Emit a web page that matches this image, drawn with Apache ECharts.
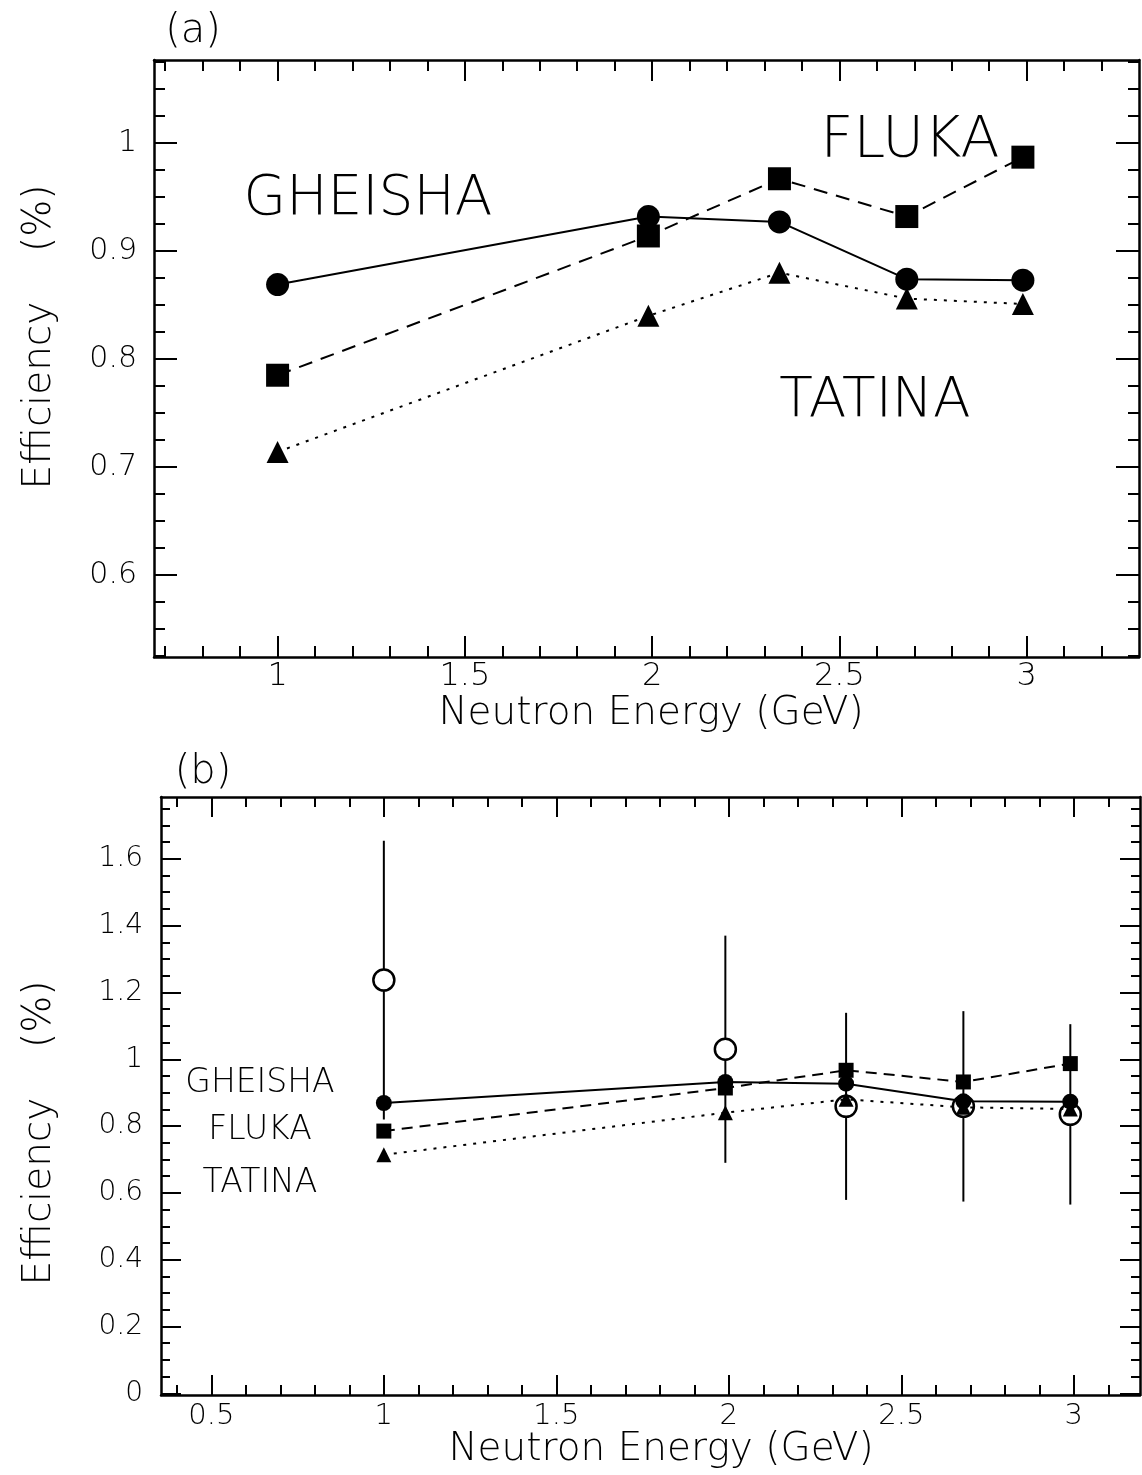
<!DOCTYPE html>
<html>
<head>
<meta charset="utf-8">
<script src="https://cdn.jsdelivr.net/npm/echarts@6/dist/echarts.min.js"></script>
<style>
html, body { margin: 0; padding: 0; background: #fff; }
#main { width: 1142px; height: 1475px; }
</style>
</head>
<body>
<div id="main"></div>
<script>
// neutron energies (GeV)
var energy = [1, 1.99, 2.34, 2.68, 2.99];
// simulated efficiencies
var gheisha = [0.869, 0.932, 0.927, 0.874, 0.873];
var fluka   = [0.785, 0.914, 0.967, 0.932, 0.987];
var tatina  = [0.714, 0.840, 0.880, 0.856, 0.851];
// measured efficiency with error
var measured = [1.237, 1.03, 0.859, 0.859, 0.835];
var measErr  = [0.417, 0.34, 0.28, 0.285, 0.27];

// tick labels
var aXTicks = [1, 1.5, 2, 2.5, 3];
var aYTicks = [0.6, 0.7, 0.8, 0.9, 1];
var bXTicks = [0.5, 1, 1.5, 2, 2.5, 3];
var bYTicks = [0, 0.2, 0.4, 0.6, 0.8, 1, 1.2, 1.4, 1.6];

function steps(from, to, step) {
    var out = [];
    for (var v = from; v <= to + 1e-9; v += step) out.push(+v.toFixed(3));
    return out;
}
var aXMinor = steps(0.7, 3.2, 0.1);
var aYMinor = steps(0.525, 1.075, 0.025);
var bXMinor = steps(0.4, 3.1, 0.1);
var bYMinor = steps(0.05, 1.75, 0.05);

var FONT = 'DejaVu Sans';
var WEIGHT = 200;
var BLACK = '#000';

function axis(o) {
    return {
        type: 'value',
        gridIndex: o.grid,
        position: o.pos,
        min: o.min,
        max: o.max,
        axisLine: { show: !!o.line, onZero: false, lineStyle: { color: BLACK, width: 2.5 } },
        axisTick: { show: true, inside: true, length: o.len, customValues: o.ticks,
                    lineStyle: { color: BLACK, width: 2 } },
        axisLabel: o.labels ? {
            show: true, customValues: o.ticks, margin: o.margin,
            fontSize: o.fontSize, fontFamily: FONT, fontWeight: WEIGHT, color: BLACK,
            formatter: function (v) { return String(v); }
        } : { show: false },
        splitLine: { show: false },
        axisPointer: { show: false }
    };
}

var xAxes = [
    axis({grid: 0, pos: 'bottom', min: 0.67, max: 3.30, len: 21, ticks: aXTicks, line: true, labels: true, margin: 4, fontSize: 32}),
    axis({grid: 0, pos: 'bottom', min: 0.67, max: 3.30, len: 11, ticks: aXMinor}),
    axis({grid: 0, pos: 'top', min: 0.67, max: 3.30, len: 21, ticks: aXTicks, line: true}),
    axis({grid: 0, pos: 'top', min: 0.67, max: 3.30, len: 11, ticks: aXMinor}),
    axis({grid: 1, pos: 'bottom', min: 0.354, max: 3.192, len: 20, ticks: bXTicks, line: true, labels: true, margin: 7, fontSize: 29}),
    axis({grid: 1, pos: 'bottom', min: 0.354, max: 3.192, len: 10, ticks: bXMinor}),
    axis({grid: 1, pos: 'top', min: 0.354, max: 3.192, len: 20, ticks: bXTicks, line: true}),
    axis({grid: 1, pos: 'top', min: 0.354, max: 3.192, len: 10, ticks: bXMinor})
];
var yAxes = [
    axis({grid: 0, pos: 'left', min: 0.524, max: 1.077, len: 23, ticks: aYTicks, line: true, labels: true, margin: 17, fontSize: 30}),
    axis({grid: 0, pos: 'left', min: 0.524, max: 1.077, len: 11, ticks: aYMinor}),
    axis({grid: 0, pos: 'right', min: 0.524, max: 1.077, len: 23, ticks: aYTicks, line: true}),
    axis({grid: 0, pos: 'right', min: 0.524, max: 1.077, len: 11, ticks: aYMinor}),
    axis({grid: 1, pos: 'left', min: -0.005, max: 1.785, len: 20, ticks: bYTicks, line: true, labels: true, margin: 18, fontSize: 28}),
    axis({grid: 1, pos: 'left', min: -0.005, max: 1.785, len: 9, ticks: bYMinor}),
    axis({grid: 1, pos: 'right', min: -0.005, max: 1.785, len: 20, ticks: bYTicks, line: true}),
    axis({grid: 1, pos: 'right', min: -0.005, max: 1.785, len: 9, ticks: bYMinor})
];

function pairs(ys) {
    return energy.map(function (e, i) { return [e, ys[i]]; });
}

function simLine(name, ys, panel, symbol, size, lineType) {
    var idx = panel === 'a' ? 0 : 4;
    return {
        name: name, type: 'line', xAxisIndex: idx, yAxisIndex: idx,
        data: pairs(ys),
        symbol: symbol, symbolSize: size, showSymbol: true,
        lineStyle: { color: BLACK, width: 2, type: lineType, opacity: 1 },
        itemStyle: { color: BLACK, borderWidth: 0, opacity: 1 },
        z: 4, animation: false
    };
}

var dashed = [14, 9];
var dotted = [3, 7];

var series = [
    simLine('GHEISHA', gheisha, 'a', 'circle', 23, 'solid'),
    simLine('FLUKA', fluka, 'a', 'rect', 23, dashed),
    simLine('TATINA', tatina, 'a', 'triangle', 22, dotted),
    {
        name: 'errors', type: 'custom', xAxisIndex: 4, yAxisIndex: 4,
        data: energy.map(function (e, i) { return [e, measured[i] - measErr[i], measured[i] + measErr[i]]; }),
        encode: { x: 0, y: [1, 2] },
        renderItem: function (params, api) {
            var lo = api.coord([api.value(0), api.value(1)]);
            var hi = api.coord([api.value(0), api.value(2)]);
            return { type: 'line', shape: { x1: lo[0], y1: lo[1], x2: hi[0], y2: hi[1] },
                     style: { stroke: BLACK, lineWidth: 2 } };
        },
        z: 1, animation: false
    },
    {
        name: 'data', type: 'scatter', xAxisIndex: 4, yAxisIndex: 4,
        data: pairs(measured),
        symbol: 'circle', symbolSize: 21,
        itemStyle: { color: '#fff', borderColor: BLACK, borderWidth: 2.5, opacity: 1 },
        z: 2, animation: false
    },
    simLine('GHEISHA', gheisha, 'b', 'circle', 16, 'solid'),
    simLine('FLUKA', fluka, 'b', 'rect', 15, [11, 7]),
    simLine('TATINA', tatina, 'b', 'triangle', 15, dotted)
];

function label(text, x, y, size, rot) {
    return {
        type: 'text', x: x, y: y, rotation: rot || 0, z: 10,
        style: { text: text, fontSize: size, fontFamily: FONT, fontWeight: WEIGHT, fill: BLACK,
                 align: 'center', verticalAlign: 'middle' }
    };
}

var chart = echarts.init(document.getElementById('main'));
chart.setOption({
    backgroundColor: '#fff',
    animation: false,
    grid: [
        { left: 154, top: 60, width: 985, height: 597, outerBoundsMode: 'none' },
        { left: 161, top: 797, width: 979, height: 598, outerBoundsMode: 'none' }
    ],
    xAxis: xAxes,
    yAxis: yAxes,
    series: series,
    graphic: [
        label('(a)', 193, 32, 40),
        label('(b)', 203, 773, 40),
        label('GHEISHA', 368, 200, 55),
        label('FLUKA', 910, 142, 57),
        label('TATINA', 875, 402, 55),
        label('Neutron Energy (GeV)', 651, 714, 39),
        label('Neutron Energy (GeV)', 661, 1450, 39),
        label('Efficiency    (%)', 40, 337, 39, Math.PI / 2),
        label('Efficiency    (%)', 40, 1133, 39, Math.PI / 2),
        label('GHEISHA', 260, 1083, 33),
        label('FLUKA', 260, 1130, 33),
        label('TATINA', 260, 1183, 33)
    ]
});
</script>
</body>
</html>
